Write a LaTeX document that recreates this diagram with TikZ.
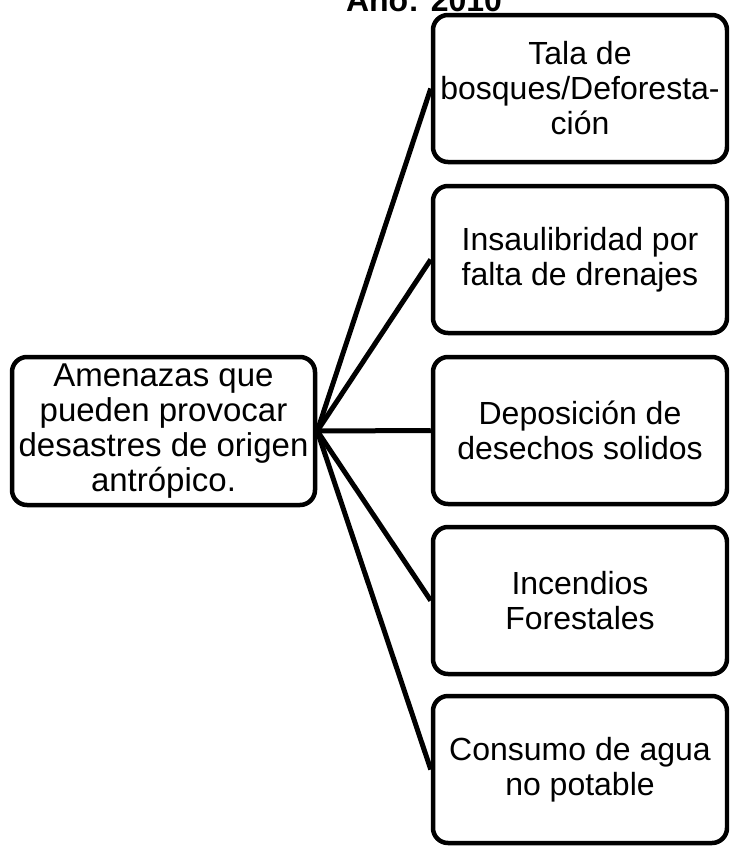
\documentclass[tikz,border=0pt]{standalone}
\usepackage{fontspec}
\setmainfont{Liberation Sans}
\begin{document}
\begin{tikzpicture}[x=1pt,y=-1pt,
  box/.style={draw, line width=4.5pt, rounded corners=15pt, align=center, inner sep=0pt,
    font=\fontsize{32}{35}\selectfont},
  rbox/.style={box, minimum width=294pt, minimum height=147pt},
  link/.style={line width=5pt}]
\clip (0,0) rectangle (729,846);
\useasboundingbox (0,0) rectangle (729,846);
\node[font=\bfseries\fontsize{32}{35}\selectfont, anchor=base, inner sep=0pt] (title) at (424,11) {Año: 2010};
\node[box, minimum width=303pt, minimum height=148pt, font=\fontsize{33}{35}\selectfont] (main) at (163.5,431) {Amenazas que\\pueden provocar\\desastres de origen\\antrópico.};
\node[rbox] (b1) at (580,88.5) {Tala de\\bosques/Deforesta-\\ción};
\node[rbox] (b2) at (580,259.5) {Insaulibridad por\\falta de drenajes};
\node[rbox] (b3) at (580,430.5) {Deposición de\\desechos solidos};
\node[rbox] (b4) at (580,600.5) {Incendios\\Forestales};
\node[rbox] (b5) at (580,769.5) {Consumo de agua\\no potable};
\foreach \b in {b1,b2,b3,b4,b5}
  \draw[link] (main.east) -- (\b.west);
\end{tikzpicture}
\end{document}
